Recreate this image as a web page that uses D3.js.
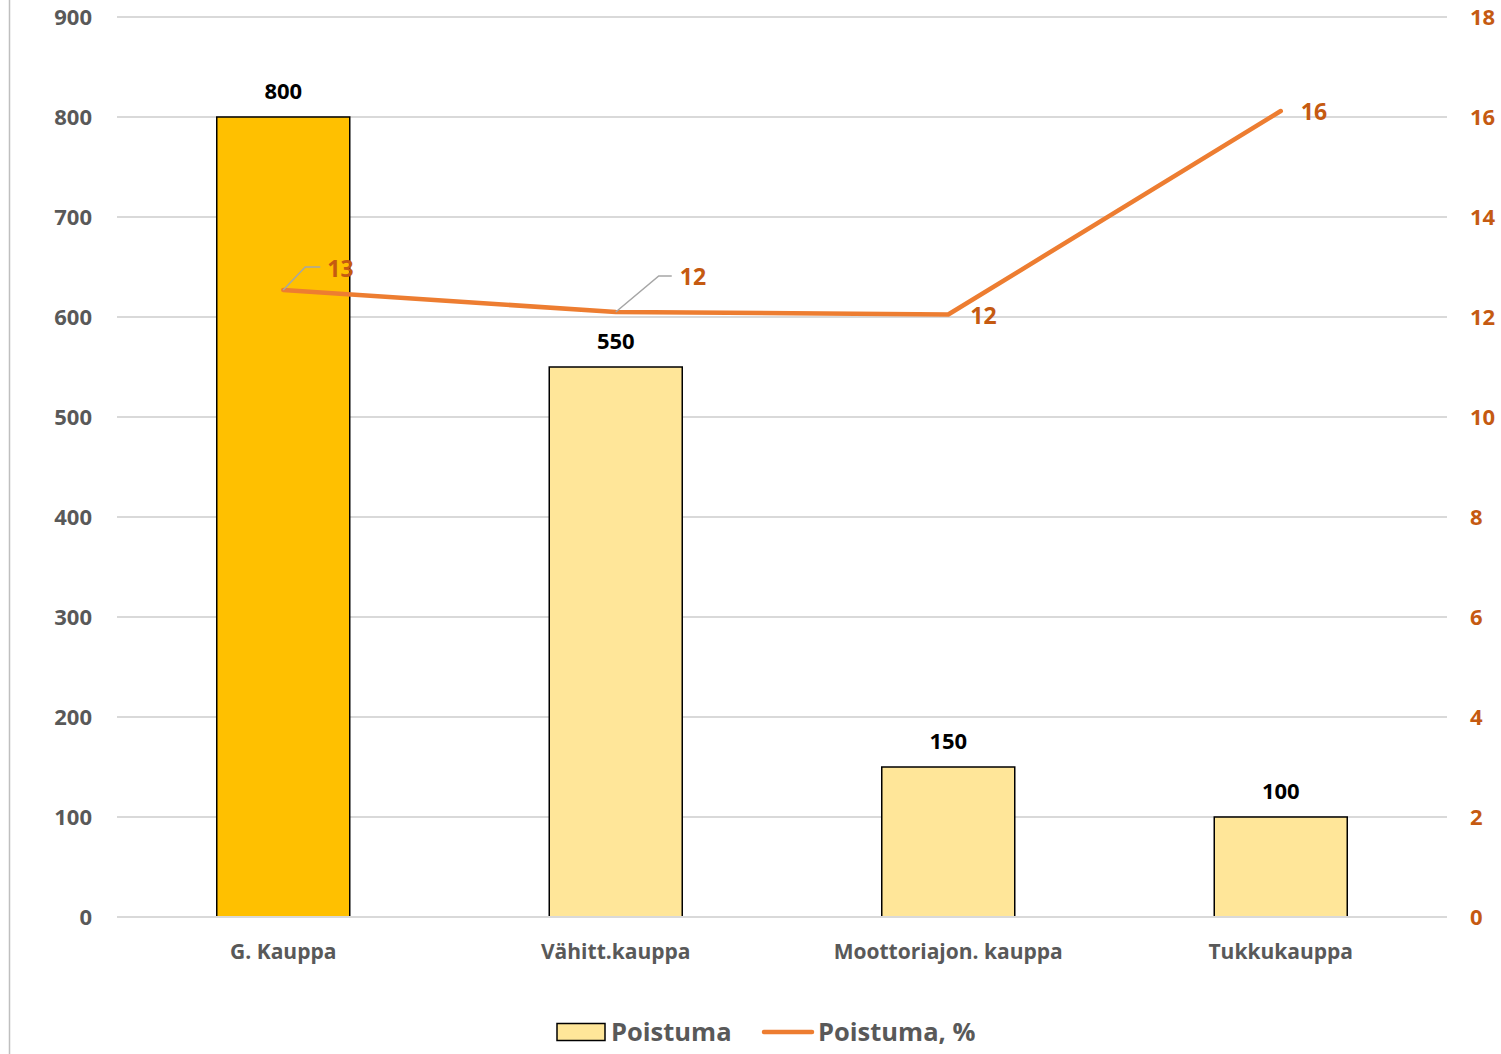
<!DOCTYPE html>
<html><head><meta charset="utf-8">
<script src="https://cdn.jsdelivr.net/npm/d3@7"></script>
<style>body{margin:0;background:#fff;} svg{display:block;font-family:"Open Sans",sans-serif;font-weight:700;}</style>
</head><body>
<svg id="c" width="1501" height="1054"></svg>
<script>
const categories = ["G. Kauppa", "Vähitt.kauppa", "Moottoriajon. kauppa", "Tukkukauppa"];
const poistuma = [800, 550, 150, 100];
const poistumaPct = [12.54, 12.1, 12.05, 16.12];
const pctLabels = ["13", "12", "12", "16"];
const leftTicks = [0,100,200,300,400,500,600,700,800,900];
const rightTicks = [0,2,4,6,8,10,12,14,16,18];
const barColors = ["#FFC000", "#FFE699", "#FFE699", "#FFE699"];

const FONT = "'Open Sans', sans-serif";
const svg = d3.select("#c");
const L = 117, R = 1447, T = 17, B = 917;
const x = d3.scaleBand().domain(categories).range([L, R]).paddingInner(0.6).paddingOuter(0.3);
const yL = d3.scaleLinear().domain([0, 900]).range([B, T]);
const yR = d3.scaleLinear().domain([0, 18]).range([B, T]);

svg.append("line").attr("x1",9.5).attr("x2",9.5).attr("y1",0).attr("y2",1054).attr("stroke","#bfbfbf").attr("stroke-width",1.5);

svg.append("g").selectAll("line").data(leftTicks).join("line")
  .attr("x1", L).attr("x2", R).attr("y1", d=>yL(d)).attr("y2", d=>yL(d))
  .attr("stroke", "#d9d9d9").attr("stroke-width", 2);

const gl = svg.append("g").attr("transform",`translate(${L},0)`)
  .call(d3.axisLeft(yL).tickValues(leftTicks).tickSize(0).tickPadding(25));
gl.select(".domain").remove();
gl.selectAll("text").attr("fill","#595959").attr("font-size",22).attr("font-family",FONT).attr("font-weight",700).attr("dy","0.33em");

const gr = svg.append("g").attr("transform",`translate(${R},0)`)
  .call(d3.axisRight(yR).tickValues(rightTicks).tickSize(0).tickPadding(23));
gr.select(".domain").remove();
gr.selectAll("text").attr("fill","#C55A11").attr("font-size",22).attr("font-family",FONT).attr("font-weight",700).attr("dy","0.33em");

svg.append("g").selectAll("rect").data(categories).join("rect")
  .attr("x", d=>x(d)).attr("width", x.bandwidth())
  .attr("y", (d,i)=>yL(poistuma[i])).attr("height", (d,i)=>B - yL(poistuma[i]))
  .attr("fill", (d,i)=>barColors[i]).attr("stroke","#000").attr("stroke-width",1.5);

svg.append("line").attr("x1",L).attr("x2",R).attr("y1",B).attr("y2",B).attr("stroke","#d9d9d9").attr("stroke-width",2);

svg.append("g").selectAll("text").data(categories).join("text")
  .attr("x", d=>x(d)+x.bandwidth()/2).attr("y", (d,i)=>yL(poistuma[i]) - 18)
  .attr("text-anchor","middle").attr("font-size",22).attr("fill","#000").text((d,i)=>poistuma[i]);

svg.append("g").selectAll("text").data(categories).join("text")
  .attr("x", d=>x(d)+x.bandwidth()/2).attr("y", 959)
  .attr("text-anchor","middle").attr("font-size",21).attr("fill","#595959").text(d=>d);

const cx = d => x(d) + x.bandwidth()/2;
const line = d3.line().x((d,i)=>cx(categories[i])).y(d=>yR(d));
svg.append("path").datum(poistumaPct).attr("d", line).attr("fill","none")
  .attr("stroke","#ED7D31").attr("stroke-width",4.5).attr("stroke-linecap","round").attr("stroke-linejoin","round");

const leaders = [[0, 22, -23, 15],[1, 43, -36, 13]];
leaders.forEach(([i, dx, dy, h])=>{
  const px = cx(categories[i]), py = yR(poistumaPct[i]);
  svg.append("polyline").attr("points", `${px},${py} ${px+dx},${py+dy} ${px+dx+h},${py+dy}`)
    .attr("fill","none").attr("stroke","#a6a6a6").attr("stroke-width",1.5);
});

const labelOffsets = [[44, -21], [64, -35], [22, 1], [20, 1]];
svg.append("g").selectAll("text").data(poistumaPct).join("text")
  .attr("x", (d,i)=>cx(categories[i]) + labelOffsets[i][0])
  .attr("y", (d,i)=>yR(d) + labelOffsets[i][1])
  .attr("dy","0.35em").attr("font-size",23).attr("fill","#C55A11").text((d,i)=>pctLabels[i]);

const lg = svg.append("g");
lg.append("rect").attr("x",557).attr("y",1023.5).attr("width",48).attr("height",17).attr("fill","#FFE699").attr("stroke","#000").attr("stroke-width",1.5);
lg.append("text").attr("x",611).attr("y",1041).attr("font-size",25.5).attr("fill","#595959").text("Poistuma");
lg.append("line").attr("x1",764).attr("x2",812).attr("y1",1032).attr("y2",1032).attr("stroke","#ED7D31").attr("stroke-width",4.5).attr("stroke-linecap","round");
lg.append("text").attr("x",818).attr("y",1041).attr("font-size",25.5).attr("fill","#595959").text("Poistuma, %");
</script>
</body></html>
